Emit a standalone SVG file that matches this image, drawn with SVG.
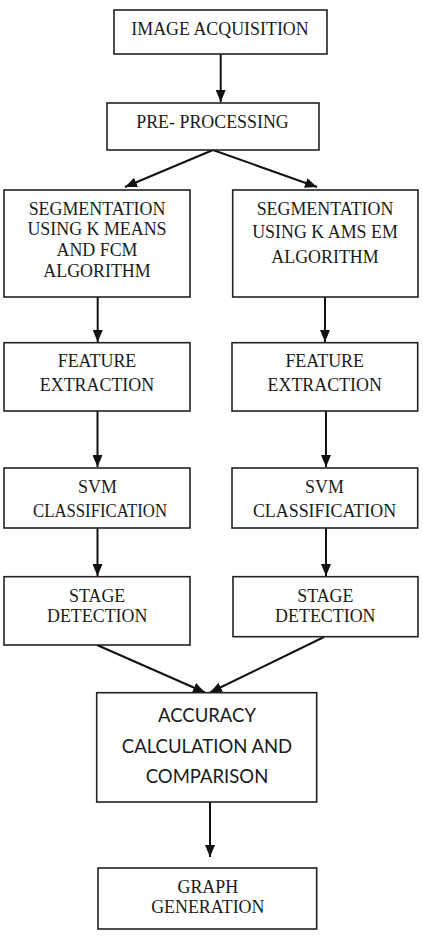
<svg xmlns="http://www.w3.org/2000/svg" width="423" height="936" viewBox="0 0 423 936">
  <defs>
    <marker id="arrow" markerUnits="userSpaceOnUse" markerWidth="12" markerHeight="10" refX="12" refY="5" orient="auto">
      <path d="M0,0 L12,5 L0,10 z" fill="#111"/>
    </marker>
    <style>
      .box { fill: #fff; stroke: #222; stroke-width: 1.6; }
      .t { font-family: 'Liberation Serif', 'Times New Roman', serif; font-size: 17.9px; fill: #1a1a1a; text-anchor: middle; }
      .s { font-family: Lato, 'Open Sans', sans-serif; font-size: 18.5px; fill: #1a1a1a; text-anchor: middle; }
      .edge { stroke: #111; stroke-width: 2; fill: none; marker-end: url(#arrow); }
    </style>
  </defs>
  <rect width="423" height="936" fill="#fff"/>

  <g id="connectors">
    <line class="edge" x1="220.7" y1="54" x2="220.7" y2="102"/>
    <line class="edge" x1="213" y1="150" x2="125" y2="187"/>
    <line class="edge" x1="213" y1="150" x2="317" y2="187"/>
    <line class="edge" x1="97.7" y1="288" x2="97.7" y2="342"/>
    <line class="edge" x1="325" y1="297" x2="325" y2="342"/>
    <line class="edge" x1="97.5" y1="411" x2="97.5" y2="467"/>
    <line class="edge" x1="326" y1="411" x2="326" y2="467"/>
    <line class="edge" x1="97.5" y1="528" x2="97.5" y2="576"/>
    <line class="edge" x1="326" y1="528" x2="326" y2="576"/>
    <line class="edge" x1="97" y1="645" x2="205" y2="692.5"/>
    <line class="edge" x1="324" y1="637" x2="210" y2="692.5"/>
    <line class="edge" x1="210" y1="802" x2="210" y2="857"/>
  </g>

  <g id="image-acquisition">
    <rect class="box" x="114" y="10" width="213" height="44"/>
    <text class="t" x="220" y="35">IMAGE ACQUISITION</text>
  </g>

  <g id="pre-processing">
    <rect class="box" x="107" y="103" width="212" height="47"/>
    <text class="t" x="212.5" y="128">PRE- PROCESSING</text>
  </g>

  <g id="segmentation-kmeans-fcm">
    <rect class="box" x="4" y="190" width="186" height="107"/>
    <text class="t" x="97" y="215">SEGMENTATION</text>
    <text class="t" x="97" y="235">USING K MEANS</text>
    <text class="t" x="97" y="256">AND FCM</text>
    <text class="t" x="97" y="276.7">ALGORITHM</text>
  </g>

  <g id="segmentation-kams-em">
    <rect class="box" x="232.7" y="190" width="185.3" height="107"/>
    <text class="t" x="325" y="215">SEGMENTATION</text>
    <text class="t" x="325" y="238.3">USING K AMS EM</text>
    <text class="t" x="325" y="262.7">ALGORITHM</text>
  </g>

  <g id="feature-extraction-left">
    <rect class="box" x="4" y="342.7" width="186" height="68.3"/>
    <text class="t" x="97" y="367.3">FEATURE</text>
    <text class="t" x="97" y="391">EXTRACTION</text>
  </g>

  <g id="feature-extraction-right">
    <rect class="box" x="232" y="342.7" width="185.7" height="68.3"/>
    <text class="t" x="324.7" y="367.3">FEATURE</text>
    <text class="t" x="324.7" y="391">EXTRACTION</text>
  </g>

  <g id="svm-classification-left">
    <rect class="box" x="4" y="468" width="186" height="60"/>
    <text class="t" x="97.5" y="493.3">SVM</text>
    <text class="t" x="100" y="516.7" textLength="134" lengthAdjust="spacingAndGlyphs">CLASSIFICATION</text>
  </g>

  <g id="svm-classification-right">
    <rect class="box" x="232" y="468" width="185.7" height="60"/>
    <text class="t" x="324.5" y="493.3">SVM</text>
    <text class="t" x="324.5" y="516.7">CLASSIFICATION</text>
  </g>

  <g id="stage-detection-left">
    <rect class="box" x="4" y="576.7" width="186" height="68.3"/>
    <text class="t" x="97.2" y="601.7">STAGE</text>
    <text class="t" x="97.2" y="621.7">DETECTION</text>
  </g>

  <g id="stage-detection-right">
    <rect class="box" x="233" y="576.7" width="185" height="60"/>
    <text class="t" x="325.3" y="601.7">STAGE</text>
    <text class="t" x="325.3" y="621.7">DETECTION</text>
  </g>

  <g id="accuracy-calculation">
    <rect class="box" x="96.7" y="692.7" width="220" height="109.3"/>
    <text class="s" x="207" y="721.7">ACCURACY</text>
    <text class="s" x="207" y="752.7">CALCULATION AND</text>
    <text class="s" x="207" y="783.3">COMPARISON</text>
  </g>

  <g id="graph-generation">
    <rect class="box" x="98" y="868" width="218.7" height="61"/>
    <text class="t" x="207.8" y="893.3">GRAPH</text>
    <text class="t" x="207.8" y="913.3">GENERATION</text>
  </g>
</svg>
